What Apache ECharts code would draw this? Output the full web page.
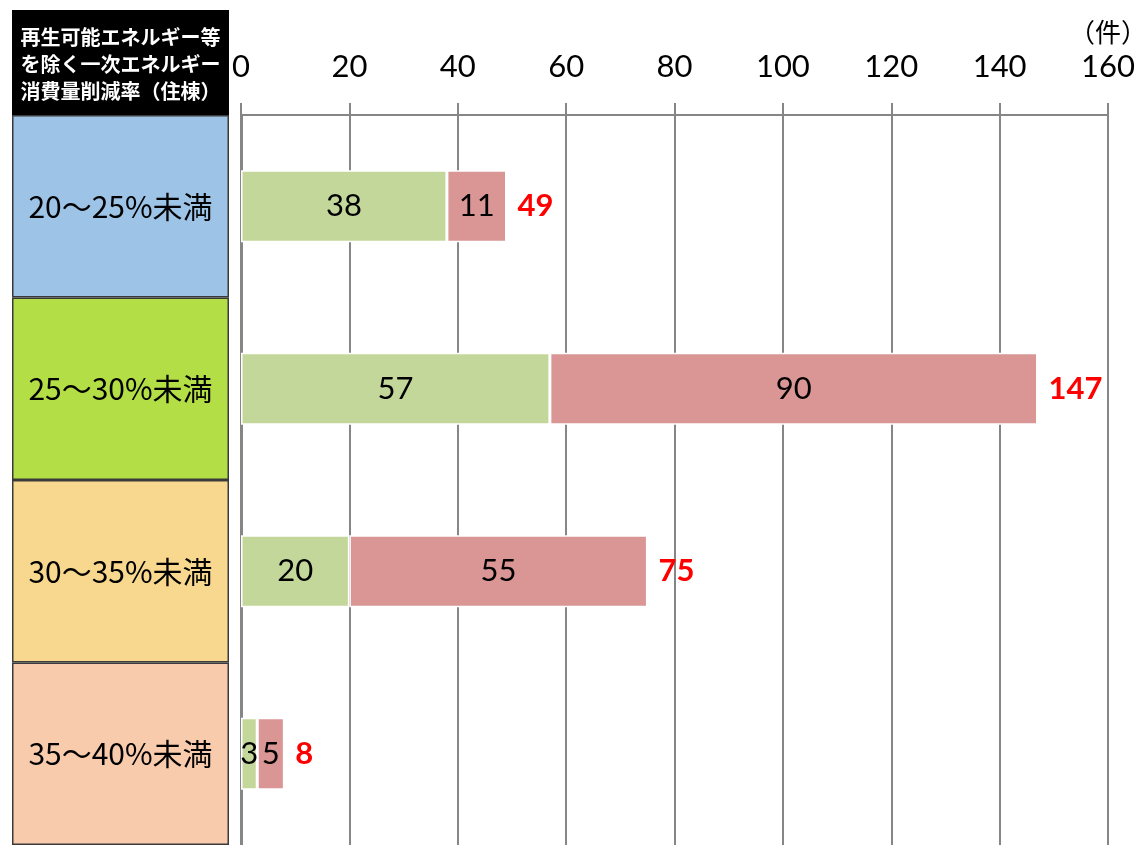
<!DOCTYPE html>
<html>
<head>
<meta charset="utf-8">
<script src="https://cdn.jsdelivr.net/npm/echarts@6/dist/echarts.min.js"></script>
<style>
  html, body { margin: 0; padding: 0; background: #fff; }
  #chart { width: 1140px; height: 845px; }
</style>
</head>
<body>
<div id="chart"></div>
<script>
// 削減率の区分
const categories = ['20～25%未満', '25～30%未満', '30～35%未満', '35～40%未満'];
// 内訳（件数）
const countsGreen = [38, 57, 20, 3];
const countsRed = [11, 90, 55, 5];
// 合計（件数）
const totals = [49, 147, 75, 8];
// 区分セルの塗り色
const bandColors = ['#9DC3E6', '#B3DE46', '#F8D88E', '#F8CBAD'];
// 横軸の目盛
const axisMin = 0, axisMax = 160, axisStep = 20;

const headerLines = ['再生可能エネルギー等', 'を除く一次エネルギー', '消費量削減率（住棟）'];

const gray = '#868686';
const latin = 'Lato, "Noto Sans CJK JP", sans-serif';
const cjk = '"Noto Sans CJK JP", sans-serif';

const chart = echarts.init(document.getElementById('chart'), null, { renderer: 'canvas' });

chart.setOption({
  animation: false,
  backgroundColor: '#ffffff',
  grid: [
    { left: 241, width: 867, top: 115, height: 732 },
    { left: 12, width: 217, top: 115, height: 732 }
  ],
  xAxis: [
    {
      gridIndex: 0,
      type: 'value',
      position: 'top',
      min: axisMin, max: axisMax, interval: axisStep,
      axisLine: { show: true, lineStyle: { color: gray, width: 2 } },
      axisTick: { show: true, length: 12, lineStyle: { color: gray, width: 2 } },
      splitLine: { show: true, lineStyle: { color: gray, width: 2 } },
      axisLabel: { color: '#000', fontSize: 31, fontFamily: latin, margin: 33 }
    },
    { gridIndex: 1, type: 'value', min: 0, max: 1, show: false }
  ],
  yAxis: [
    {
      gridIndex: 0,
      type: 'category',
      inverse: true,
      data: categories,
      axisLine: { show: true, lineStyle: { color: gray, width: 3 } },
      axisTick: { show: false },
      axisLabel: { show: false },
      splitLine: { show: false }
    },
    {
      gridIndex: 1,
      type: 'category',
      inverse: true,
      data: categories,
      show: false
    }
  ],
  series: [
    {
      type: 'bar',
      xAxisIndex: 0, yAxisIndex: 0,
      stack: 'total',
      barWidth: 72,
      data: countsGreen,
      itemStyle: { color: '#C4D79B', borderColor: '#ffffff', borderWidth: 1.5 },
      label: { show: true, position: 'inside', color: '#000', fontSize: 31, fontFamily: latin }
    },
    {
      type: 'bar',
      xAxisIndex: 0, yAxisIndex: 0,
      stack: 'total',
      barWidth: 72,
      data: countsRed,
      itemStyle: { color: '#DA9694', borderColor: '#ffffff', borderWidth: 1.5 },
      label: { show: true, position: 'inside', color: '#000', fontSize: 31, fontFamily: latin }
    },
    {
      // 合計ラベル用（透明な積み上げ）
      type: 'bar',
      xAxisIndex: 0, yAxisIndex: 0,
      stack: 'total',
      barWidth: 72,
      data: totals.map(() => 0),
      itemStyle: { color: 'rgba(0,0,0,0)' },
      label: {
        show: true,
        position: 'right',
        distance: 11,
        formatter: p => String(totals[p.dataIndex]),
        color: '#FF0000',
        fontWeight: 'bold',
        fontSize: 31,
        fontFamily: latin
      },
      silent: true
    },
    {
      // 左側の区分セル
      type: 'bar',
      xAxisIndex: 1, yAxisIndex: 1,
      barWidth: '100%',
      data: categories.map((c, i) => ({
        value: 1,
        itemStyle: { color: bandColors[i] }
      })),
      itemStyle: { borderColor: '#3a3a3a', borderWidth: 1.5 },
      label: {
        show: true,
        position: 'inside',
        formatter: p => categories[p.dataIndex],
        color: '#000',
        fontSize: 30,
        fontFamily: cjk
      },
      silent: true
    }
  ],
  graphic: [
    {
      type: 'rect',
      shape: { x: 12, y: 10, width: 217, height: 105 },
      style: { fill: '#000000' },
      z: 10
    },
    {
      type: 'text',
      x: 120.5, y: 64,
      style: {
        text: headerLines.join('\n'),
        fill: '#ffffff',
        font: 'bold 20px "Noto Sans CJK JP", sans-serif',
        lineHeight: 27,
        align: 'center',
        verticalAlign: 'middle'
      },
      z: 11
    },
    {
      type: 'text',
      x: 1108, y: 32,
      style: {
        text: '（件）',
        fill: '#000000',
        font: '26px "Noto Sans CJK JP", sans-serif',
        align: 'center',
        verticalAlign: 'middle'
      },
      z: 11
    }
  ]
});
</script>
</body>
</html>
